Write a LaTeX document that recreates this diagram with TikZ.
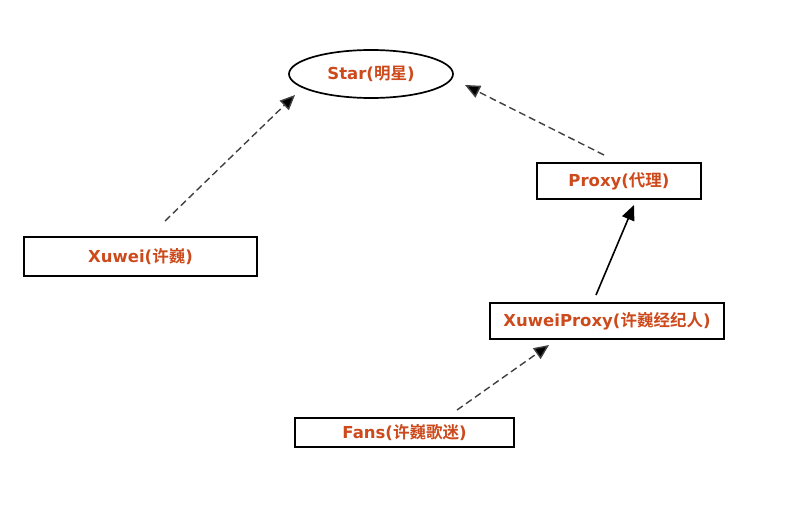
\documentclass[tikz,border=0pt]{standalone}
\usepackage{fontspec}
\setmainfont{DejaVu Sans}
\newfontfamily\cjk{Noto Sans CJK SC}[BoldFont={Noto Sans CJK SC Bold}]
\usetikzlibrary{arrows.meta,shapes.geometric}
\definecolor{lbl}{HTML}{CC4A1C}
\begin{document}
\begin{tikzpicture}[x=1pt,y=-1pt,
  lab/.style={font=\fontsize{16.5}{19}\selectfont\bfseries, text=lbl},
  boxn/.style={draw, line width=1.7pt, inner sep=0pt, lab},
  dep/.style={draw=black!75, line width=1.4pt, dash pattern=on 7pt off 4pt, -{Triangle[length=15pt,width=13pt,fill=black]}},
  assoc/.style={draw=black, line width=1.6pt, -{Triangle[length=15pt,width=13pt]}}]
\useasboundingbox (0,0) rectangle (791,506);
\node[boxn, ellipse, minimum width=164pt, minimum height=48pt] (star) at (371,74) {Star({\cjk 明星})};
\node[boxn, rectangle, minimum width=164pt, minimum height=36pt] (proxy) at (619,181) {Proxy({\cjk 代理})};
\node[boxn, rectangle, minimum width=233pt, minimum height=39pt] (xuwei) at (140.5,256.5) {Xuwei({\cjk 许巍})};
\node[boxn, rectangle, minimum width=234pt, minimum height=36pt] (xp) at (607,321) {XuweiProxy({\cjk 许巍经纪人})};
\node[boxn, rectangle, minimum width=219pt, minimum height=29pt] (fans) at (404.5,432.5) {Fans({\cjk 许巍歌迷})};
\coordinate (a1) at (165,221); \coordinate (a1t) at (295,95);
\coordinate (a2) at (604,155); \coordinate (a2t) at (465,85);
\coordinate (a3) at (596,295); \coordinate (a3t) at (634,205);
\coordinate (a4) at (457,410); \coordinate (a4t) at (549,345);
\draw[dep] (a1) -- (a1t);
\draw[dep] (a2) -- (a2t);
\draw[assoc] (a3) -- (a3t);
\draw[dep] (a4) -- (a4t);
\end{tikzpicture}
\end{document}
